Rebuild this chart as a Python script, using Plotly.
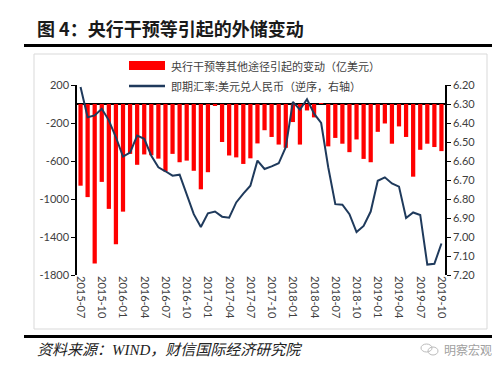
import plotly.graph_objects as go

# ---------------- data ----------------
months = [f"{y}-{m:02d}" for y, m in
          [(2015, m) for m in range(7, 13)] + [(2016, m) for m in range(1, 13)] +
          [(2017, m) for m in range(1, 13)] + [(2018, m) for m in range(1, 13)] +
          [(2019, m) for m in range(1, 11)]]

intervention = [  # 亿美元
    -860, -980, -1680, -820, -1104, -1476, -1133, -525, -640, -531,
    -540, -575, -710, -525, -613, -596, -703, -898, -718, -18,
    -400, -542, -562, -631, -572, -415, -276, -347, -427, -461,
    -190, -427, -68, -141, 5, -446, -357, -418, -507, -373,
    -578, -613, -293, -205, -418, -236, -347, -765, -482, -418,
    -453, -496]

spot_rate = [
    6.21, 6.37, 6.36, 6.325, 6.386, 6.475, 6.577, 6.556, 6.466, 6.483,
    6.572, 6.633, 6.654, 6.677, 6.672, 6.775, 6.88, 6.947, 6.875, 6.866,
    6.893, 6.898, 6.818, 6.772, 6.73, 6.598, 6.642, 6.628, 6.612, 6.527,
    6.289, 6.33, 6.275, 6.351, 6.40, 6.633, 6.827, 6.83, 6.88, 6.974,
    6.942, 6.866, 6.704, 6.686, 6.718, 6.735, 6.90, 6.871, 6.884, 7.145,
    7.141, 7.034]

tick_months = months[::3]
left_ticks = [200, -200, -600, -1000, -1400, -1800]
right_ticks = [6.2 + 0.1 * i for i in range(11)]

title_text = "图 4：央行干预等引起的外储变动"
bar_name = "央行干预等其他途径引起的变动（亿美元）"
line_name = "即期汇率:美元兑人民币（逆序，右轴）"
source_text = "资料来源：WIND，财信国际经济研究院"
watermark = "明察宏观"

# ---------------- layout helpers ----------------
L, R, T, B = 69, 437, 77, 267
PW, PH = R - L, B - T


def px(x):
    return (x - L) / PW


def py(y):
    return (B - y) / PH


fig = go.Figure()
fig.add_trace(go.Bar(x=months, y=intervention, marker_color="#FF0000",
                     marker_line_width=0, name=bar_name, yaxis="y"))
fig.add_trace(go.Scatter(x=months, y=spot_rate, mode="lines",
                         line=dict(color="#1F3A5C", width=2),
                         name=line_name, yaxis="y2"))

tickfont = dict(family="Lato, Liberation Sans, sans-serif", size=11, color="#404040")
cjk = "Noto Sans CJK SC, sans-serif"

shapes = [
    # title rule
    dict(type="line", xref="paper", yref="paper", x0=px(16), x1=px(490),
         y0=py(37.5), y1=py(37.5), line=dict(color="black", width=3)),
    # light frame
    dict(type="rect", xref="paper", yref="paper", x0=px(26), x1=px(479),
         y0=py(46), y1=py(321), line=dict(color="#D9D9D9", width=1), layer="below"),
    # bottom rule
    dict(type="line", xref="paper", yref="paper", x0=px(16), x1=px(490),
         y0=py(328.5), y1=py(328.5), line=dict(color="black", width=3)),
    # legend swatches
    dict(type="rect", xref="paper", yref="paper", x0=px(121), x1=px(157),
         y0=py(62), y1=py(53), fillcolor="#FF0000", line=dict(width=0)),
    dict(type="line", xref="paper", yref="paper", x0=px(121), x1=px(157),
         y0=py(78), y1=py(78), line=dict(color="#1F3A5C", width=2.5)),
    # watermark icon
    dict(type="circle", xref="paper", yref="paper", x0=px(413), x1=px(424),
         y0=py(344), y1=py(336), line=dict(color="#BBBBBB", width=1)),
    dict(type="circle", xref="paper", yref="paper", x0=px(420), x1=px(430),
         y0=py(347), y1=py(339), line=dict(color="#BBBBBB", width=1)),
]

annotations = [
    dict(text=f"<b>{title_text}</b>", xref="paper", yref="paper", x=px(27), y=py(20),
         xanchor="left", yanchor="middle", showarrow=False,
         font=dict(family=cjk, size=18, color="#1A1A1A")),
    dict(text=bar_name, xref="paper", yref="paper", x=px(161), y=py(57.5),
         xanchor="left", yanchor="middle", showarrow=False,
         font=dict(family=cjk, size=11, color="#404040")),
    dict(text=line_name, xref="paper", yref="paper", x=px(161), y=py(78),
         xanchor="left", yanchor="middle", showarrow=False,
         font=dict(family=cjk, size=11, color="#404040")),
    dict(text=f"<i>{source_text}</i>", xref="paper", yref="paper", x=px(27), y=py(342),
         xanchor="left", yanchor="middle", showarrow=False,
         font=dict(family="Liberation Serif, Noto Sans CJK SC, serif", size=15, color="#222222")),
    dict(text=watermark, xref="paper", yref="paper", x=px(434), y=py(341),
         xanchor="left", yanchor="middle", showarrow=False,
         font=dict(family=cjk, size=12, color="#A0A0A0")),
]

fig.update_layout(
    width=500, height=365,
    margin=dict(l=L, r=500 - R, t=T, b=365 - B),
    paper_bgcolor="white", plot_bgcolor="white",
    showlegend=False,
    bargap=0.4,
    xaxis=dict(type="category", range=[-0.5, len(months) - 0.5],
               tickmode="array", tickvals=tick_months, ticktext=tick_months,
               tickangle=90, tickfont=tickfont, showgrid=False, showline=False,
               ticks="", zeroline=False),
    yaxis=dict(range=[-1800, 200], tickmode="array", tickvals=left_ticks,
               ticktext=[str(v) for v in left_ticks], tickfont=tickfont,
               showgrid=False, showline=True, linecolor="black", linewidth=1.5,
               ticks="outside", ticklen=4, tickcolor="black", tickwidth=1.2,
               zeroline=True, zerolinecolor="black", zerolinewidth=1.5),
    yaxis2=dict(range=[7.2, 6.2], overlaying="y", side="right", tickmode="array",
                tickvals=right_ticks, ticktext=[f"{v:.2f}" for v in right_ticks],
                tickfont=tickfont, showgrid=False, showline=True, linecolor="black",
                linewidth=1.5, ticks="outside", ticklen=4, tickcolor="black",
                tickwidth=1.2, zeroline=False),
    shapes=shapes,
    annotations=annotations,
)

fig.write_html("out.html")
